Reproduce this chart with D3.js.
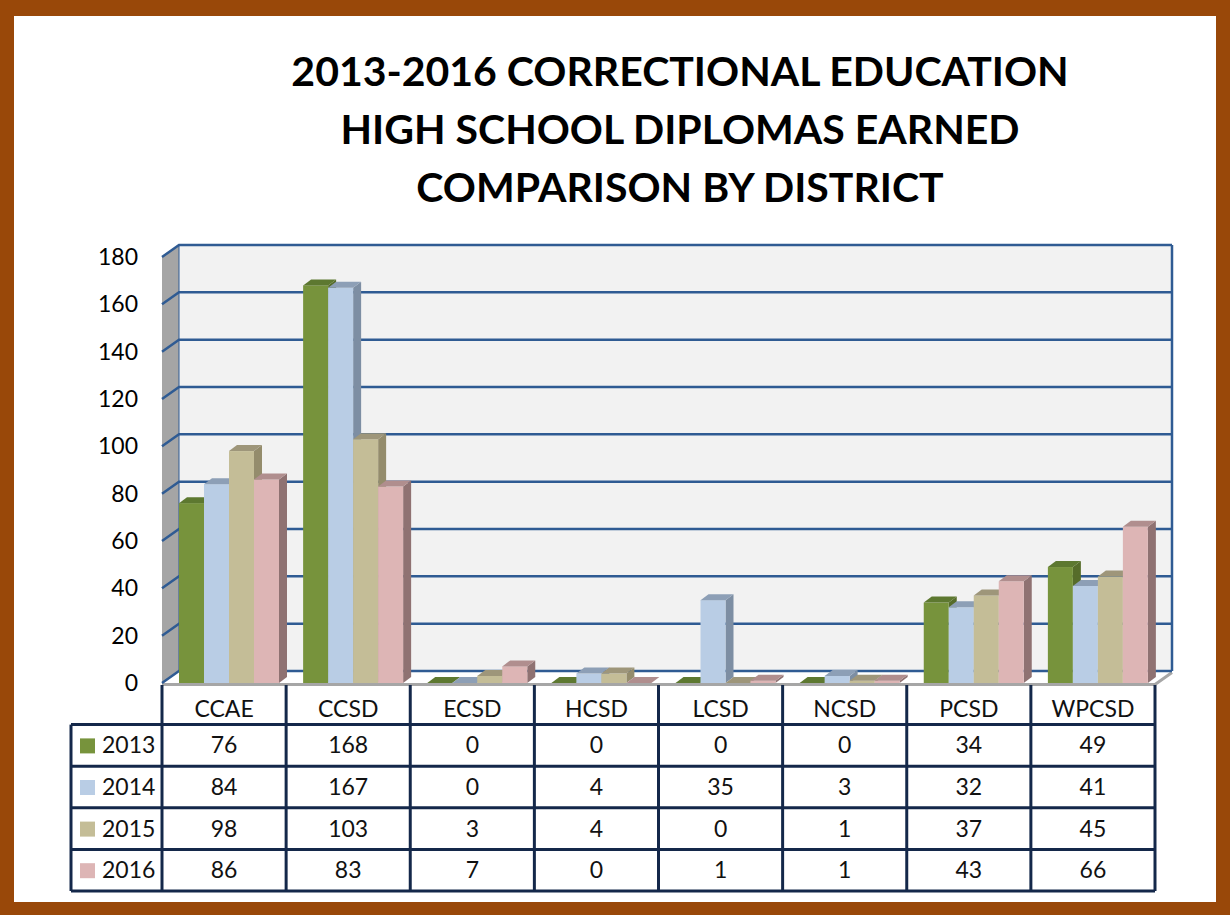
<!DOCTYPE html>
<html>
<head>
<meta charset="utf-8">
<script src="https://cdn.jsdelivr.net/npm/d3@7/dist/d3.min.js"></script>
<style>
  html, body { margin:0; padding:0; background:#fff; }
  svg { display:block; font-family: Lato, "Open Sans", sans-serif; }
</style>
</head>
<body>
<svg id="chart" width="1230" height="915"></svg>
<script>
/* ---------- data ------------------------------------------- */
const districts = ["CCAE","CCSD","ECSD","HCSD","LCSD","NCSD","PCSD","WPCSD"];
const years     = ["2013","2014","2015","2016"];
const v2013 = [76,168,0,0,0,0,34,49];
const v2014 = [84,167,0,4,35,3,32,41];
const v2015 = [98,103,3,4,0,1,37,45];
const v2016 = [86,83,7,0,1,1,43,66];
const yTicks = [0,20,40,60,80,100,120,140,160,180];
const titleLines = ["2013-2016 CORRECTIONAL EDUCATION","HIGH SCHOOL DIPLOMAS EARNED","COMPARISON BY DISTRICT"];

const series = [v2013, v2014, v2015, v2016];

/* ---------- colours ---------------------------------------- */
const face = {"2013":"#77933c","2014":"#b9cde5","2015":"#c4bd97","2016":"#ddb5b5"};
const side = {"2013":"#566c2a","2014":"#7d8ea3","2015":"#948c6c","2016":"#8f7272"};
const top_ = {"2013":"#5d7830","2014":"#8d9fb6","2015":"#9e967a","2016":"#b08e8e"};

const svg = d3.select("#chart");

/* ---------- frame ------------------------------------------ */
svg.append("rect").attr("x",0).attr("y",0).attr("width",1230).attr("height",915).attr("fill","#994809");
svg.append("rect").attr("x",14).attr("y",16).attr("width",1202).attr("height",886).attr("fill","#fff");

/* ---------- title ------------------------------------------ */
svg.append("g").selectAll("text").data(titleLines).enter().append("text")
  .attr("x",680).attr("y",(d,i)=>86 + i*58)
  .attr("text-anchor","middle")
  .attr("font-size",41).attr("font-weight","bold").attr("fill","#000")
  .text(d=>d);

/* ---------- scales ----------------------------------------- */
const DX = 17, DY = 12;          // wall depth offset
const BX = 8,  BY = 6;           // bar depth offset
const x  = d3.scaleBand().domain(districts).range([162,1155]);
const xi = d3.scaleBand().domain(years).range([17,117]);
const y  = d3.scaleLinear().domain([0,180]).range([683,257]);

/* ---------- walls ------------------------------------------ */
const [fx0, fx1] = x.range();
const g = svg.append("g");
// back wall
g.append("rect").attr("x",fx0+DX).attr("y",y(180)-DY)
  .attr("width",fx1-fx0).attr("height",y(0)-y(180))
  .attr("fill","#f2f2f2");
// left side wall
g.append("polygon")
  .attr("points",[[fx0,y(0)],[fx0,y(180)],[fx0+DX,y(180)-DY],[fx0+DX,y(0)-DY]].join(" "))
  .attr("fill","#a5a5a5");
// floor
g.append("polygon")
  .attr("points",[[fx0,y(0)],[fx0+DX,y(0)-DY],[fx1+DX,y(0)-DY],[fx1,y(0)]].join(" "))
  .attr("fill","#ffffff");
g.append("polyline")
  .attr("points",[[fx0,y(0)+1.5],[fx1,y(0)+1.5],[fx1+DX,y(0)-DY+1.5]].join(" "))
  .attr("fill","none").attr("stroke","#a6a6a6").attr("stroke-width",3);

// gridlines: side wall diagonal + back wall horizontal
const grid = g.append("g").attr("stroke","#2f5b93").attr("stroke-width",2.5).attr("fill","none");
grid.selectAll("polyline").data(yTicks).enter().append("polyline")
  .attr("points",d=>[[fx0,y(d)],[fx0+DX,y(d)-DY],[fx1+DX,y(d)-DY]].join(" "));
grid.append("line").attr("x1",fx1+DX).attr("x2",fx1+DX).attr("y1",y(180)-DY).attr("y2",y(0)-DY);
grid.append("line").attr("x1",fx0+DX).attr("x2",fx0+DX).attr("y1",y(180)-DY).attr("y2",y(0)-DY)
  .attr("stroke-width",1);

/* ---------- bars ------------------------------------------- */
const bars = [];
districts.forEach((dist,i)=>{
  years.forEach((yr,j)=>bars.push({dist, yr, v: series[j][i]}));
});
const gb = svg.append("g");
bars.forEach(d=>{
  const x0 = x(d.dist) + xi(d.yr), w = xi.bandwidth();
  const yt = y(d.v), yb = y(0);
  const b = gb.append("g");
  // side
  b.append("polygon")
    .attr("points",[[x0+w,yb],[x0+w,yt],[x0+w+BX,yt-BY],[x0+w+BX,yb-BY]].join(" "))
    .attr("fill",side[d.yr]);
  // front
  if (d.v > 0) b.append("rect").attr("x",x0).attr("y",yt).attr("width",w).attr("height",yb-yt)
    .attr("fill",face[d.yr]);
  // top
  b.append("polygon")
    .attr("points",[[x0,yt],[x0+BX,yt-BY],[x0+w+BX,yt-BY],[x0+w,yt]].join(" "))
    .attr("fill",top_[d.yr]);
});

/* ---------- y axis labels ---------------------------------- */
svg.append("g")
  .attr("transform","translate(146,0)")
  .call(d3.axisLeft(y).tickValues(yTicks).tickSize(0).tickPadding(8))
  .call(a=>a.select(".domain").remove())
  .call(a=>a.selectAll("text").attr("font-size",23).attr("fill","#000")
    .attr("font-family","Lato, 'Open Sans', sans-serif"));

/* ---------- data table ------------------------------------- */
const rowY = d3.scaleBand().domain(["head"].concat(years)).range([683,891]);
const gt = svg.append("g").attr("font-size",23).attr("fill","#111");
const lineC = "#14284a";

// header labels
gt.selectAll("text.head").data(districts).enter().append("text")
  .attr("class","head")
  .attr("x",d=>x(d)+x.bandwidth()/2).attr("y",rowY("head")+rowY.bandwidth()/2+13)
  .attr("text-anchor","middle").text(d=>d);

// value cells
years.forEach((yr,j)=>{
  gt.selectAll(null).data(series[j]).enter().append("text")
    .attr("x",(d,i)=>x(districts[i])+x.bandwidth()/2)
    .attr("y",rowY(yr)+rowY.bandwidth()/2+8)
    .attr("text-anchor","middle").text(d=>d);
  // legend key
  gt.append("rect").attr("x",80).attr("y",rowY(yr)+rowY.bandwidth()/2-7)
    .attr("width",15).attr("height",15).attr("fill",face[yr]);
  gt.append("text").attr("x",102).attr("y",rowY(yr)+rowY.bandwidth()/2+8).text(yr);
});

// grid lines of table
const tl = svg.append("g").attr("stroke",lineC).attr("stroke-width",3).attr("fill","none");
years.concat(["end"]).forEach(yr=>{
  const yy = yr==="end" ? rowY.range()[1] : rowY(yr);
  tl.append("line").attr("x1",71).attr("x2",fx1).attr("y1",yy).attr("y2",yy);
});
tl.append("line").attr("x1",71).attr("x2",71).attr("y1",rowY("2013")).attr("y2",rowY.range()[1]);
districts.forEach(dd=>{
  tl.append("line").attr("x1",x(dd)).attr("x2",x(dd)).attr("y1",y(0)+2).attr("y2",rowY.range()[1]);
});
tl.append("line").attr("x1",fx1).attr("x2",fx1).attr("y1",y(0)+2).attr("y2",rowY.range()[1]);
</script>
</body>
</html>
